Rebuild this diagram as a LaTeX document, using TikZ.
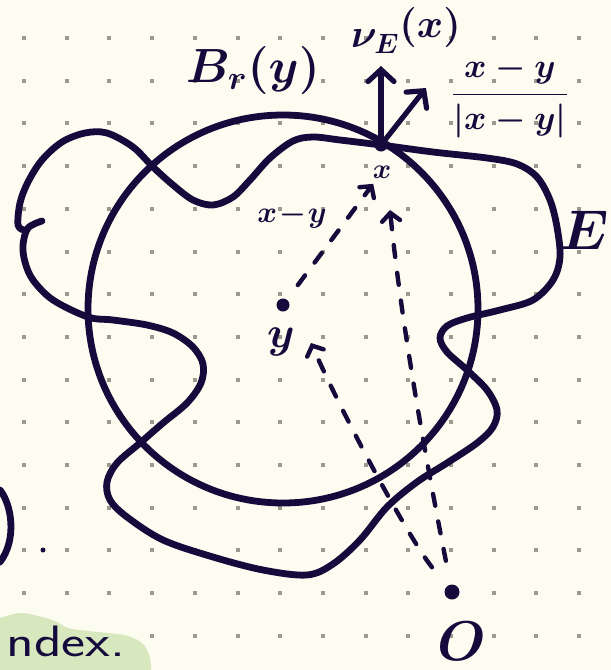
\documentclass[tikz,border=0pt]{standalone}
\usepackage{fix-cm}
\usepackage{tikz}
\usetikzlibrary{arrows.meta, positioning}
\definecolor{ink}{HTML}{140A3C}
\definecolor{paper}{HTML}{FDFCF0}
\definecolor{griddot}{HTML}{9B9A8E}
\definecolor{marker}{HTML}{D8E8BE}
\tikzset{
  pen/.style={draw=ink, line width=3.4pt, line cap=round, line join=round},
  vec/.style={draw=ink, line width=2.6pt, line cap=round,
    -{Straight Barb[length=6pt, width=13pt, line cap=round]}},
  dashline/.style={draw=ink, line width=2.2pt, line cap=round,
    dash pattern=on 6pt off 8pt,
    -{Straight Barb[length=4pt, width=9pt, line cap=round]}},
  dot/.style={circle, fill=ink, inner sep=0pt, minimum size=6.5pt},
  inktext/.style={text=ink, inner sep=1pt}
}

\begin{document}
\begin{tikzpicture}[x=0.5pt, y=-0.5pt]
  \useasboundingbox (0,0) rectangle (611,670);
  \fill[paper] (0,0) rectangle (611,670);
  \clip (0,0) rectangle (611,670);

  % dotted paper
  \foreach \i in {0,...,13}
    \foreach \j in {0,...,14}
      \fill[griddot] ({22+42.7*\i},{36+42.7*\j}) rectangle ++(4,4);

  % bits of other notes at the edges
  \fill[marker] plot[smooth, tension=0.6] coordinates {(0,618) (20,613) (38,616) (55,621) (68,628) (88,631) (108,633) (128,636) (143,644) (150,658) (151,675)}
    -- (0,675) -- cycle;
  \node[inktext, anchor=base west, font=\sffamily\fontsize{22}{22}\selectfont] (ndex) at (4,656) {\scalebox{1.3}[1]{ndex.}};
  \draw[pen] (0,490) .. controls (12,505) and (17,540) .. (0,562);
  \fill[ink] (43,550) circle (2.5);

  % points
  \node[dot] (ypt) at (283,305) {};
  \node[dot] (xpt) at (381,145) {};
  \node[dot, minimum size=7.5pt] (opt) at (452,592) {};

  % the ball and the set
  \draw[pen] (283,309) circle [x radius=195, y radius=194];
  \draw[pen] plot[smooth, tension=0.55] coordinates {(42,221) (28,228) (23,245) (25,262) (33,280) (53,300) (88,317) (113,320) (147,325) (173,333) (193,347) (203,364) (201,383) (187,403) (163,423) (140,443) (117,463) (107,482) (110,500) (127,517) (163,540) (213,557) (263,570) (307,575) (333,564) (360,540) (387,507) (417,482) (447,463) (477,443) (493,427) (497,410) (487,390) (467,370) (447,352) (440,338) (447,326) (467,318) (500,310) (533,300) (553,280) (560,257) (557,227) (550,200) (537,177) (517,164) (487,158) (433,152) (xpt) (340,140) (313,137) (293,141) (270,158) (250,180) (233,197) (213,205) (193,200) (173,185) (153,167) (133,147) (107,133) (85,133) (62,142) (42,160) (28,182) (20,203) (18,225) (24,230)};

  % labels
  \node[inktext, font=\boldmath\fontsize{24}{28}\selectfont] (ball) at (253,70) {$B_r(y)$};
  \node[inktext, font=\boldmath\fontsize{28}{32}\selectfont] (set) at (585,230) {$E$};
  \node[inktext, font=\boldmath\fontsize{14}{16}\selectfont] (xlab) at (382,172) {$x$};
  \node[inktext, font=\boldmath\fontsize{22}{26}\selectfont] (ylab) at (281,342) {$y$};
  \node[inktext, font=\boldmath\fontsize{28}{32}\selectfont] (olab) at (462,641) {$O$};
  \node[inktext, font=\boldmath\fontsize{15}{17}\selectfont] (diff) at (292,216) {$x\!-\!y$};
  \node[inktext, font=\boldmath\fontsize{20}{24}\selectfont] (nulab) at (406,30) {$\nu_E\raisebox{5pt}{$(x)$}$};
  \node[inktext, font=\boldmath\fontsize{17}{20}\selectfont] (unitlab) at (510,97) {$\displaystyle\frac{x-y}{|x-y|}$};

  % normal and unit vector at x
  \coordinate (nutip) at (381,66);
  \coordinate (unittip) at (426,88);
  \draw[vec] (xpt.center) -- (nutip);
  \draw[vec] (xpt.center) -- (unittip);

  % dashed paths
  \coordinate (tipR) at (390,210);
  \coordinate (tipL) at (311,343);
  \draw[dashline, shorten <=9pt, shorten >=2pt] (ypt) -- (xlab);
  \draw[dashline, shorten <=12pt] (opt) .. controls (428,470) and (402,330) .. (tipR);
  \draw[dashline, shorten <=12pt] (opt) .. controls (410,540) and (345,420) .. (tipL);
\end{tikzpicture}
\end{document}
